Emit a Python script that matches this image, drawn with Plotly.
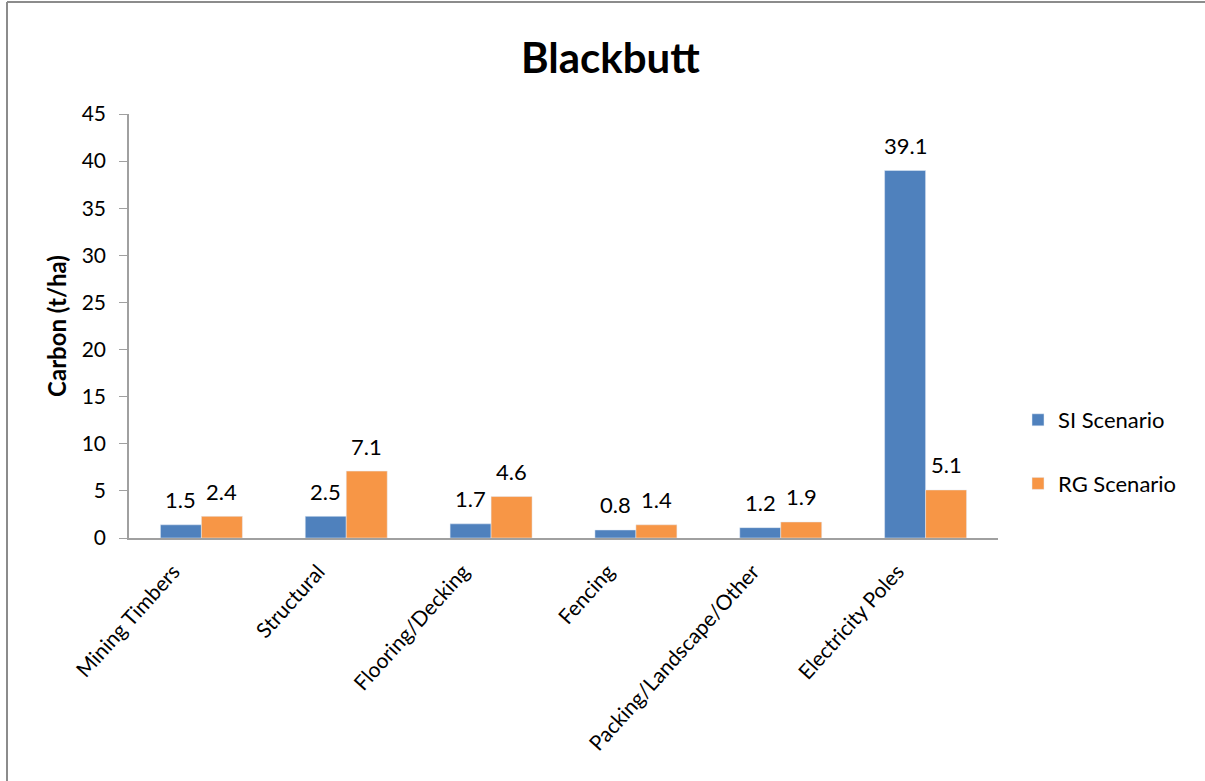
import plotly.graph_objects as go

# Data
categories = ["Mining Timbers", "Structural", "Flooring/Decking", "Fencing",
              "Packing/Landscape/Other", "Electricity Poles"]
si_values = [1.4, 2.3, 1.5, 0.85, 1.1, 39.0]
rg_values = [2.3, 7.1, 4.4, 1.4, 1.7, 5.1]
si_labels = ["1.5", "2.5", "1.7", "0.8", "1.2", "39.1"]
rg_labels = ["2.4", "7.1", "4.6", "1.4", "1.9", "5.1"]

FONT = "Lato, 'Open Sans', sans-serif"

fig = go.Figure()

fig.add_trace(go.Bar(
    x=categories, y=si_values, name="SI Scenario",
    marker=dict(color="#4F81BD"), legendgroup="si"
))
fig.add_trace(go.Bar(
    x=categories, y=rg_values, name="RG Scenario",
    marker=dict(color="#F79646"), legendgroup="rg"
))

# margins chosen so the plot area sits where the reference has it
L, R, T, B = 129, 207, 114, 243
W, H = 1205, 781
pw, ph = W - L - R, H - T - B

def px_x(p):
    return (p - L) / pw

def px_y(p):
    return 1 + (T - p) / ph

# data labels sit a fixed distance above each bar
annotations = []
for i, cat in enumerate(categories):
    for vals, labs, shift in [(si_values, si_labels, -20.5), (rg_values, rg_labels, 20.5)]:
        annotations.append(dict(
            x=cat, y=vals[i], text=labs[i], xref="x", yref="y",
            xshift=shift, yshift=25, showarrow=False,
            xanchor="center", yanchor="middle",
            font=dict(size=22, family=FONT, color="black")
        ))

annotations.append(dict(
    text="<b>Blackbutt</b>", x=px_x(610), y=px_y(57),
    xref="paper", yref="paper", xanchor="center", yanchor="middle",
    showarrow=False, font=dict(size=42, family=FONT, color="black")
))

fig.update_layout(
    width=W, height=H,
    margin=dict(l=L, r=R, t=T, b=B),
    paper_bgcolor="white", plot_bgcolor="white",
    font=dict(family=FONT, size=22, color="black"),
    barmode="group", bargap=0.434, bargroupgap=0,
    showlegend=True,
    legend=dict(x=px_x(1018), y=px_y(452), xanchor="left", yanchor="middle",
                font=dict(size=22, family=FONT), tracegroupgap=32,
                itemwidth=30, bgcolor="rgba(0,0,0,0)"),
    xaxis=dict(
        showgrid=False, zeroline=False, showline=True,
        linecolor="#A0A0A0", linewidth=2,
        tickangle=-48, tickfont=dict(size=21, family=FONT),
        ticks="", ticklabelstandoff=11, ticklabelshift=-28,
        automargin=False
    ),
    yaxis=dict(
        range=[0, 45], dtick=5, tick0=0,
        showgrid=False, zeroline=False, showline=True,
        linecolor="#A0A0A0", linewidth=1.5,
        ticks="outside", ticklen=8, tickcolor="#A0A0A0",
        tickfont=dict(size=21, family=FONT), ticklabelstandoff=9,
        title=dict(text="<b>Carbon (t/ha)</b>", font=dict(size=24, family=FONT),
                   standoff=8),
        automargin=False
    ),
    annotations=annotations,
    shapes=[
        dict(type="line", xref="paper", yref="paper",
             x0=px_x(7), x1=px_x(1205), y0=px_y(2), y1=px_y(2),
             line=dict(color="#8C8C8C", width=2)),
        dict(type="line", xref="paper", yref="paper",
             x0=px_x(7), x1=px_x(7), y0=px_y(2), y1=px_y(781),
             line=dict(color="#8C8C8C", width=2)),
    ]
)

# drop the page's default body margin so the figure starts at the window corner
fig.write_html("out.html", config={"displayModeBar": False},
               post_script="document.body.style.margin='0';")
